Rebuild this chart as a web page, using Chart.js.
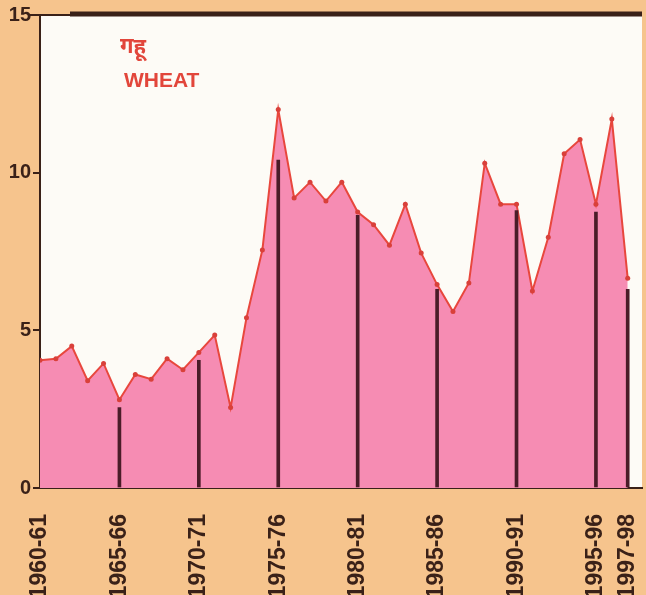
<!DOCTYPE html>
<html>
<head>
<meta charset="utf-8">
<script src="https://cdn.jsdelivr.net/npm/chart.js@4"></script>
<style>
  html, body { margin: 0; padding: 0; background: #f6c48d; overflow: hidden; }
  #wrap { width: 646px; height: 612px; position: relative; }
</style>
</head>
<body>
<div id="wrap"><canvas id="wheatChart"></canvas></div>
<script>
// wheat production index, 1960-61 .. 1997-98
const years = [
  "1960-61", "1961-62", "1962-63", "1963-64", "1964-65", "1965-66", "1966-67",
  "1967-68", "1968-69", "1969-70", "1970-71", "1971-72", "1972-73", "1973-74",
  "1974-75", "1975-76", "1976-77", "1977-78", "1978-79", "1979-80", "1980-81",
  "1981-82", "1982-83", "1983-84", "1984-85", "1985-86", "1986-87", "1987-88",
  "1988-89", "1989-90", "1990-91", "1991-92", "1992-93", "1993-94", "1994-95",
  "1995-96", "1996-97", "1997-98",
];
const wheat = [
  4.05, 4.1, 4.5, 3.4, 3.95, 2.8, 3.6, 3.45, 4.1, 3.75, 4.3, 4.85, 2.55, 5.4,
  7.55, 12.0, 9.2, 9.7, 9.1, 9.7, 8.75, 8.35, 7.7, 9.0, 7.45, 6.45, 5.6, 6.5,
  10.3, 9.0, 9.0, 6.25, 7.95, 10.6, 11.05, 9.0, 11.7, 6.65,
];
// dark drop lines under the labelled years
const stemYears = ["1965-66", "1970-71", "1975-76", "1980-81", "1985-86", "1990-91", "1995-96", "1997-98"];
const stemValues = [2.55, 4.05, 10.4, 8.65, 6.3, 8.8, 8.75, 6.3];
const tickLabels = ["1960-61", "1965-66", "1970-71", "1975-76", "1980-81", "1985-86", "1990-91", "1995-96", "1997-98"];
const yTicks = [0, 5, 10, 15];

const dark = "#3a2118";

const plotBg = {
  id: "plotBg",
  beforeDraw(chart) {
    const { ctx, chartArea: a } = chart;
    ctx.save();
    ctx.fillStyle = "#fdfbf6";
    ctx.fillRect(a.left, a.top, a.right - a.left, a.bottom - a.top);
    ctx.restore();
  },
  afterDraw(chart) {
    const { ctx, chartArea: a } = chart;
    ctx.save();
    // top frame line
    ctx.strokeStyle = dark;
    ctx.lineWidth = 2;
    ctx.beginPath();
    ctx.moveTo(a.left - 10, a.top);
    ctx.lineTo(a.left + 30, a.top);
    ctx.stroke();
    ctx.lineWidth = 5;
    ctx.beginPath();
    ctx.moveTo(a.left + 30, a.top - 1);
    ctx.lineTo(a.right, a.top - 1);
    ctx.stroke();
    // title
    ctx.fillStyle = "#e2463b";
    ctx.font = "bold 22px 'Noto Sans', sans-serif";
    ctx.fillText("गहू", a.left + 80, a.top + 38);
    ctx.font = "bold 21px 'Liberation Sans', Arial, sans-serif";
    ctx.fillText("WHEAT", a.left + 84, a.top + 72);
    ctx.restore();
  },
};

new Chart(document.getElementById("wheatChart"), {
  data: {
    datasets: [
      {
        type: "bar",
        data: stemYears.map((y, i) => ({ x: years.indexOf(y), y: stemValues[i] })),
        backgroundColor: "#4a1c28",
        barThickness: 3,
        order: 0,
      },
      {
        type: "line",
        data: wheat.map((v, i) => ({ x: i, y: v })),
        borderColor: "#e8473d",
        borderWidth: 2,
        backgroundColor: "#f68cb3",
        fill: "origin",
        tension: 0,
        pointRadius: 2.5,
        pointBackgroundColor: "#d9403a",
        pointBorderWidth: 0,
        order: 1,
      },
    ],
  },
  options: {
    responsive: true,
    maintainAspectRatio: false,
    animation: false,
    layout: { padding: { top: 15, right: 0, left: 0, bottom: 0 } },
    plugins: { legend: { display: false }, tooltip: { enabled: false } },
    scales: {
      x: {
        type: "linear",
        offset: false,
        min: 0,
        max: 37.9,
        afterFit: (scale) => {
          scale.height = 124;
          scale.paddingLeft = 0;
          scale.paddingRight = 0;
        },
        afterBuildTicks: (scale) => {
          scale.ticks = tickLabels.map((t) => ({ value: years.indexOf(t) }));
        },
        grid: { display: false, offset: false },
        border: { display: true, color: dark, width: 2 },
        ticks: {
          autoSkip: false,
          maxRotation: 90,
          minRotation: 90,
          padding: 18,
          color: dark,
          font: { family: "'Liberation Sans', Arial, sans-serif", size: 23, weight: "bold" },
          callback: (v) => years[v],
        },
      },
      y: {
        min: 0,
        max: 15,
        afterFit: (scale) => { scale.width = 40; },
        afterBuildTicks: (scale) => {
          scale.ticks = yTicks.map((v) => ({ value: v }));
        },
        grid: { drawOnChartArea: false, drawTicks: true, tickLength: 7, color: dark, lineWidth: 2 },
        border: { display: true, color: dark, width: 2 },
        ticks: {
          padding: 2,
          color: dark,
          font: { family: "'Liberation Sans', Arial, sans-serif", size: 20, weight: "bold" },
        },
      },
    },
  },
  plugins: [plotBg],
});
</script>
</body>
</html>
